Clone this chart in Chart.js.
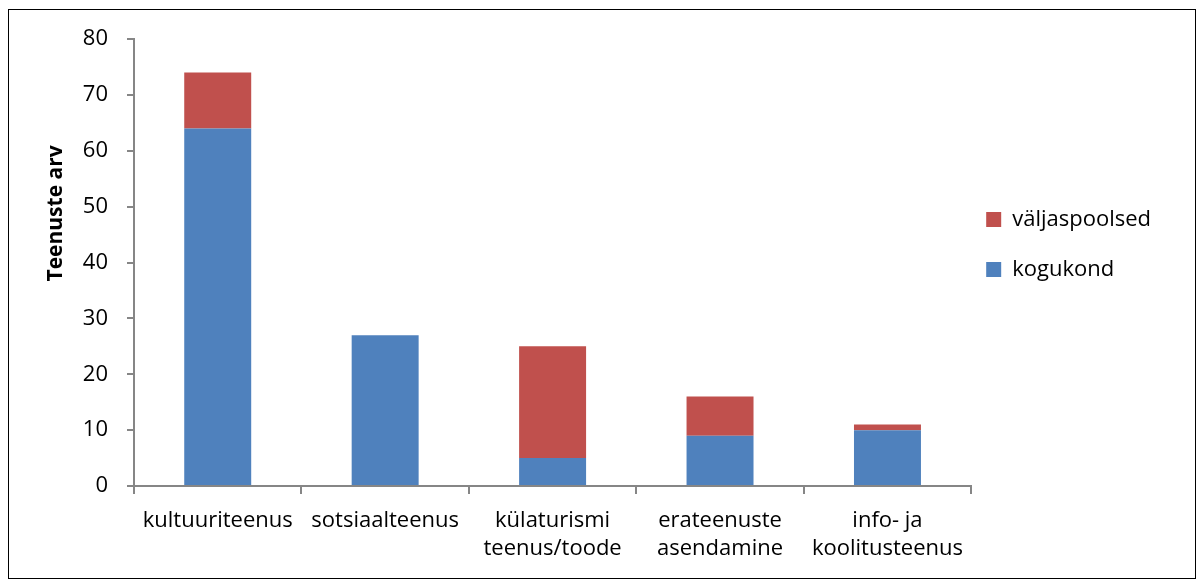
<!DOCTYPE html>
<html>
<head>
<meta charset="utf-8">
<script src="https://cdn.jsdelivr.net/npm/chart.js@4"></script>
<style>
  body { margin: 0; background: #fff; }
  #box { position: absolute; left: 8px; top: 9px; width: 1186px; height: 568px; border: 1px solid #000; }
  canvas { display: block; }
</style>
</head>
<body>
<div id="box"><canvas id="myChart" width="1186" height="568"></canvas></div>
<script>
let categories = ["kultuuriteenus", "sotsiaalteenus", ["külaturismi", "teenus/toode"], ["erateenuste", "asendamine"], ["info- ja", "koolitusteenus"]];
let kogukond = [64, 27, 5, 9, 10];
let valjaspoolsed = [10, 0, 20, 7, 1];
let yTicks = [0, 10, 20, 30, 40, 50, 60, 70, 80];

Chart.defaults.font.family = "'Open Sans', sans-serif";
Chart.defaults.font.size = 22;
Chart.defaults.color = "#000";

const axisGray = "#868686";

const myChart = new Chart(document.getElementById("myChart").getContext("2d"), {
    type: 'bar',
    data: {
        labels: categories,
        datasets: [{
            label: "kogukond",
            data: kogukond,
            backgroundColor: "#4F81BD",
            categoryPercentage: 1,
            barPercentage: 0.4
        }, {
            label: "väljaspoolsed",
            data: valjaspoolsed,
            backgroundColor: "#C0504D",
            categoryPercentage: 1,
            barPercentage: 0.4
        }]
    },
    options: {
        responsive: false,
        animation: false,
        layout: {
            padding: { left: 34, top: 29, right: 34, bottom: 0 }
        },
        plugins: {
            tooltip: { enabled: false },
            legend: {
                position: 'right',
                align: 'start',
                reverse: true,
                title: { display: true, text: ' ', padding: { top: 128, bottom: 0 } },
                labels: {
                    boxWidth: 15,
                    boxHeight: 15,
                    padding: 15,
                    font: { size: 22, lineHeight: 1.6 },
                    // array text makes each row use the font line height
                    generateLabels: (chart) => Chart.defaults.plugins.legend.labels.generateLabels(chart)
                        .map(item => Object.assign(item, { text: [item.text] }))
                }
            }
        },
        scales: {
            x: {
                stacked: true,
                grid: { drawOnChartArea: false, color: axisGray, lineWidth: 2, tickLength: 8, offset: true },
                border: { color: axisGray, width: 2 },
                ticks: { maxRotation: 0, autoSkip: false, padding: 13, font: { lineHeight: 1.27 } },
                afterFit: (scale) => { scale.height = 92; }
            },
            y: {
                stacked: true,
                min: 0,
                max: 80,
                afterBuildTicks: (scale) => { scale.ticks = yTicks.map(v => ({ value: v })); },
                grid: { drawOnChartArea: false, color: axisGray, lineWidth: 2, tickLength: 7 },
                border: { color: axisGray, width: 2 },
                ticks: { padding: 19 },
                title: { display: true, text: "                  Teenuste arv", font: { size: 21, weight: 'bold' }, padding: { top: 0, bottom: 0 } },
                afterFit: (scale) => { scale.width = 91; scale.paddingTop = 13; }
            }
        }
    }
});
</script>
</body>
</html>
